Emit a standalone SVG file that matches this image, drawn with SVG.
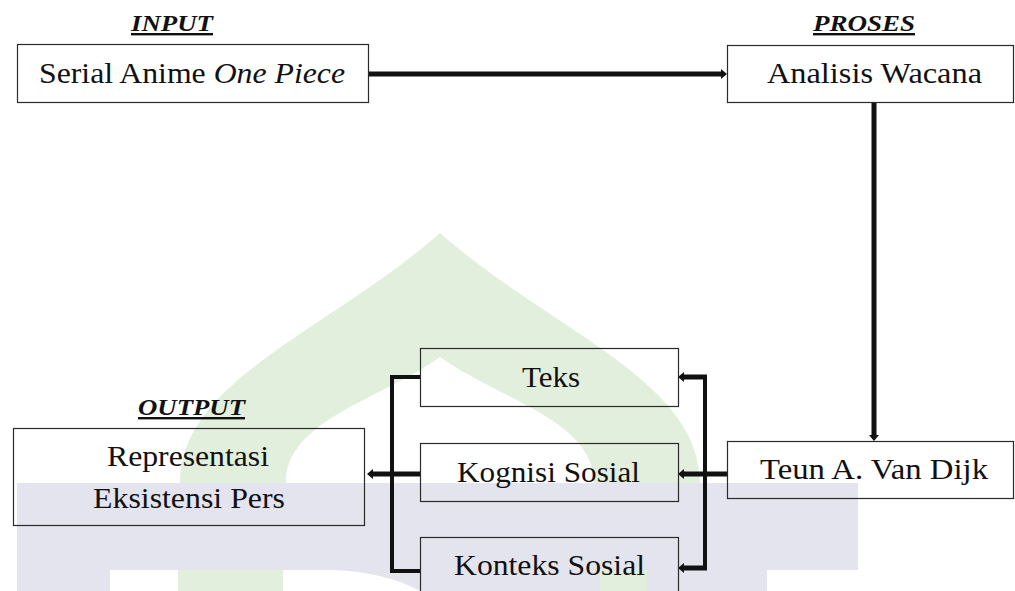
<svg xmlns="http://www.w3.org/2000/svg" width="1015" height="591" viewBox="0 0 1015 591">
  <style>
    .box { fill: none; stroke: #2a2a2a; stroke-width: 1.2; }
    .t { font-family: "Liberation Serif", "Times New Roman", serif; font-size: 29px; fill: #111; text-anchor: middle; }
    .h { font-family: "Liberation Serif", "Times New Roman", serif; font-size: 24px; font-weight: bold; font-style: italic; fill: #111; text-anchor: middle; text-decoration: underline; }
    .c { fill: none; stroke: #111; stroke-width: 5; }
    .b { fill: none; stroke: #111; stroke-width: 4; }
    .wg { fill: #e3efdd; }
    .wb { fill: #e4e4ee; }
    .ww { fill: #ffffff; }
  </style>
  <defs>
    <marker id="ah" viewBox="0 -5 6 10" refX="0" refY="0" markerWidth="6" markerHeight="10" markerUnits="userSpaceOnUse" orient="auto">
      <path d="M0,-5 L6,0 L0,5 z" fill="#111"/>
    </marker>
  </defs>
  <rect width="1015" height="591" fill="#ffffff"/>
  <g id="watermark">
    <path class="wg" d="M180,483 C180,380 330,330 440,233 C550,330 700,380 700,483 L594,483 C594,420 500,400 440,357 C380,400 286,420 286,483 Z"/>
    <rect class="wb" x="17" y="483" width="841" height="108"/>
    <rect class="ww" x="110" y="570" width="68" height="21"/>
    <rect class="wg" x="178" y="570" width="105" height="21"/>
    <path class="ww" d="M283,570 L333,570 Q385,572 420,591 L283,591 Z"/>
    <rect class="wg" x="600" y="570" width="47" height="21"/>
    <rect class="ww" x="767" y="570" width="91" height="21"/>
  </g>
  <g id="headings">
    <text class="h" x="172" y="31" textLength="82" lengthAdjust="spacingAndGlyphs">INPUT</text>
    <text class="h" x="864" y="31" textLength="102" lengthAdjust="spacingAndGlyphs">PROSES</text>
    <text class="h" x="191.5" y="415" textLength="107" lengthAdjust="spacingAndGlyphs">OUTPUT</text>
  </g>
  <g id="connectors">
    <line class="c" x1="368" y1="74" x2="721" y2="74" marker-end="url(#ah)"/>
    <line class="c" x1="874" y1="102" x2="874" y2="435" marker-end="url(#ah)"/>
    <line class="c" x1="727" y1="474" x2="684" y2="474" marker-end="url(#ah)"/>
    <path class="b" d="M705,377 V568"/>
    <line class="c" x1="707" y1="377" x2="684" y2="377" marker-end="url(#ah)"/>
    <line class="c" x1="707" y1="568" x2="684" y2="568" marker-end="url(#ah)"/>
    <path class="b" d="M420,377 H392 V571 H420"/>
    <line class="c" x1="420" y1="474" x2="373" y2="474" marker-end="url(#ah)"/>
  </g>
  <g id="node-serial">
    <rect class="box" x="17.5" y="44.5" width="351" height="58"/>
    <text class="t" x="192" y="83" textLength="306" lengthAdjust="spacingAndGlyphs">Serial Anime <tspan font-style="italic">One Piece</tspan></text>
  </g>
  <g id="node-analisis">
    <rect class="box" x="727.5" y="45.5" width="286" height="57"/>
    <text class="t" x="874.5" y="83" textLength="215" lengthAdjust="spacingAndGlyphs">Analisis Wacana</text>
  </g>
  <g id="node-teun">
    <rect class="box" x="727.5" y="441.5" width="286" height="57"/>
    <text class="t" x="874" y="479" textLength="228" lengthAdjust="spacingAndGlyphs">Teun A. Van Dijk</text>
  </g>
  <g id="node-teks">
    <rect class="box" x="420.5" y="348.5" width="258" height="58"/>
    <text class="t" x="551" y="387" textLength="58" lengthAdjust="spacingAndGlyphs">Teks</text>
  </g>
  <g id="node-kognisi">
    <rect class="box" x="420.5" y="443.5" width="258" height="58"/>
    <text class="t" x="548.5" y="482" textLength="183" lengthAdjust="spacingAndGlyphs">Kognisi Sosial</text>
  </g>
  <g id="node-konteks">
    <rect class="box" x="420.5" y="537.5" width="258" height="60"/>
    <text class="t" x="549.5" y="575" textLength="191" lengthAdjust="spacingAndGlyphs">Konteks Sosial</text>
  </g>
  <g id="node-output">
    <rect class="box" x="13.5" y="428.5" width="351" height="97"/>
    <text class="t" x="188" y="466" textLength="162" lengthAdjust="spacingAndGlyphs">Representasi</text>
    <text class="t" x="189" y="508" textLength="192" lengthAdjust="spacingAndGlyphs">Eksistensi Pers</text>
  </g>
</svg>
